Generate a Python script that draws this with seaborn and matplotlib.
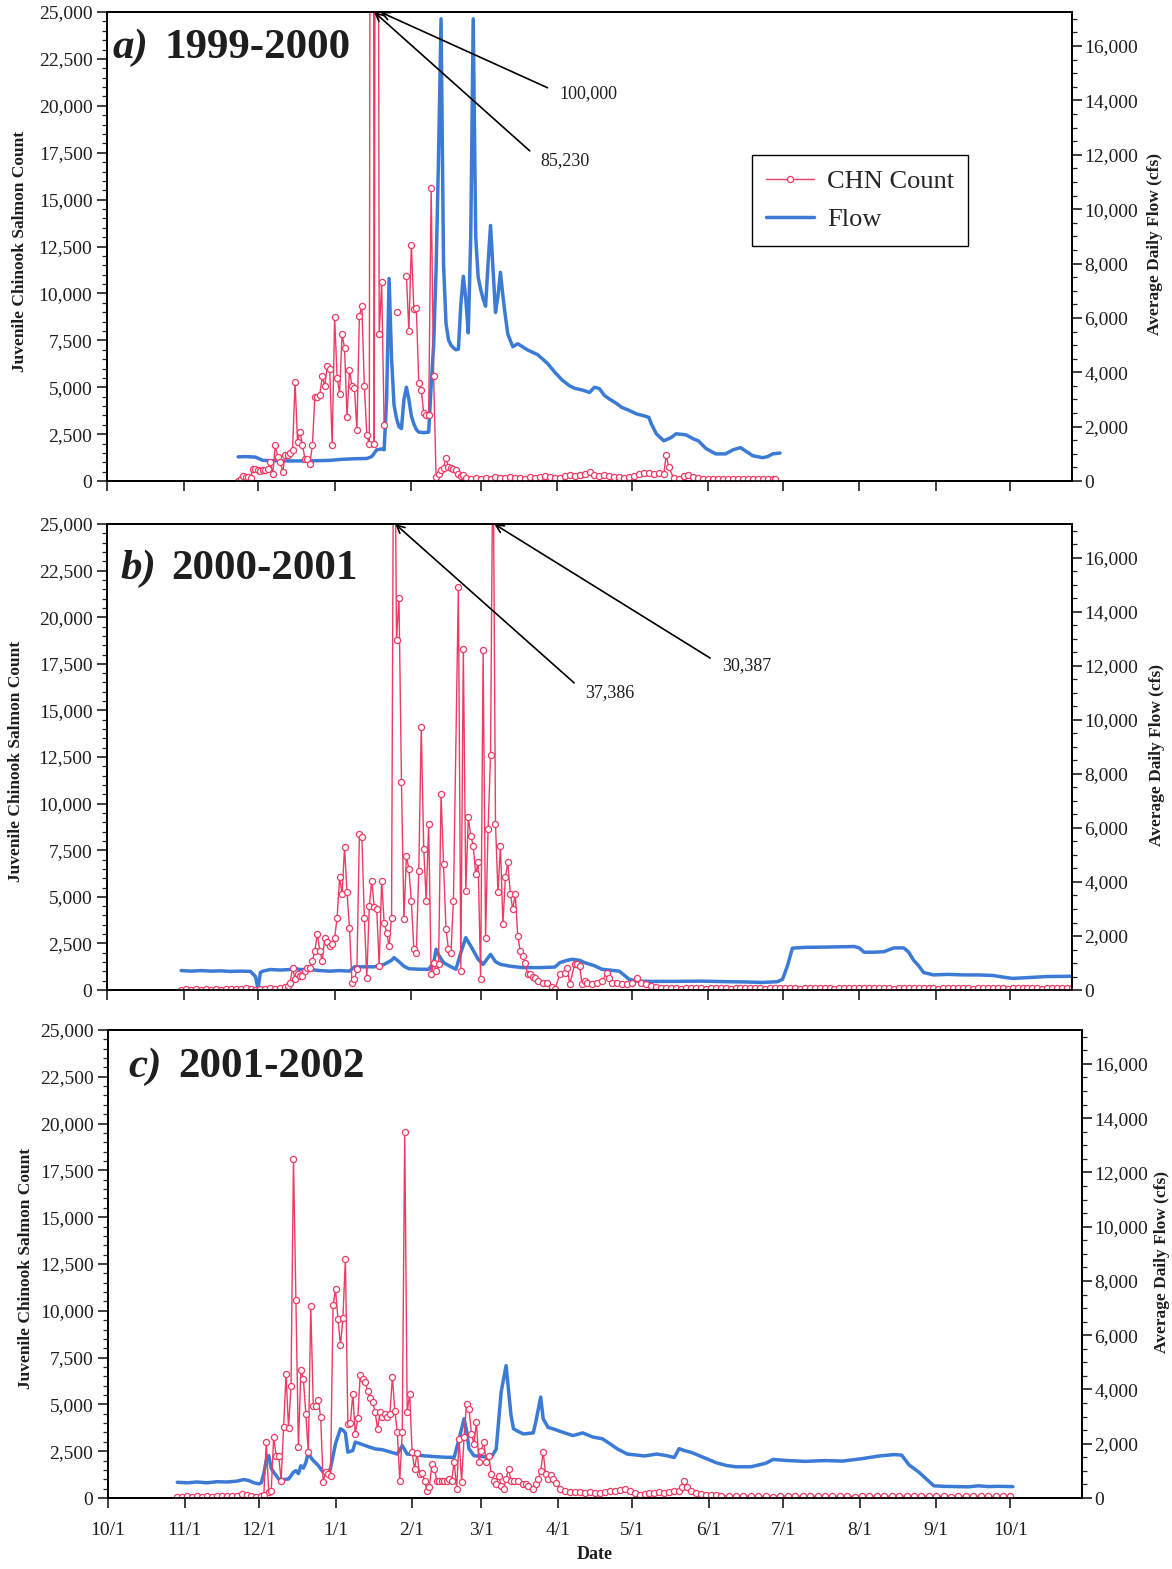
import matplotlib
matplotlib.use("Agg")
import matplotlib.pyplot as plt
import matplotlib.ticker as mticker
import numpy as np
import pandas as pd
import seaborn as sns

# x positions are days counted from 10/1
MONTH_DAYS = [0, 31, 61, 92, 123, 151, 182, 212, 243, 273, 304, 335, 365]
MONTH_LABELS = ["10/1", "11/1", "12/1", "1/1", "2/1", "3/1", "4/1",
                "5/1", "6/1", "7/1", "8/1", "9/1", "10/1"]

# ---- a) 1999-2000
A_COUNT_DAY = (list(range(53, 113)) + [117] + list(range(121, 146))
               + list(range(147, 226, 2)) + [226, 227]
               + list(range(229, 270, 2)) + [270])
A_COUNT = [0, 100, 250, 200, 200, 180, 660, 620, 600, 540,
           570, 600, 660, 1020, 390, 1900, 1300, 1020, 480, 1380,
           1400, 1470, 1680, 5300, 2100, 2630, 1900, 1200, 1200, 930,
           1900, 4500, 4500, 4600, 5580, 5050, 6120, 5980, 1900, 8720,
           5490, 4650, 7820, 7100, 3440, 5940, 5050, 4960, 2720, 8800,
           9340, 5050, 2450, 2000, 100000, 2000, 85230, 7820, 10600, 2990,
           9000,
           10950, 8000, 12600, 9160, 9250, 5230, 4870, 3620, 3530, 3530,
           15600, 5580, 200, 390, 570, 700, 1250, 750, 700, 650,
           600, 350, 250, 300, 150,
           120, 180, 120, 150, 130, 200, 170, 180, 220, 150,
           180, 130, 200, 160, 220, 260, 200, 180, 150, 260,
           300, 250, 300, 350, 480, 300, 260, 300, 280, 200,
           240, 150, 200, 260, 350, 420, 450, 400, 420, 380,
           1400, 750,
           150, 100, 250, 300, 200, 150, 120, 100, 120, 100,
           90, 100, 100, 90, 100, 100, 90, 100, 100, 90,
           100, 100]
A_FLOW_DAY = [53, 56, 60, 62, 63, 70, 80, 90, 95, 100, 105, 107, 109, 111, 112,
              113, 114, 115, 116, 117, 118, 119, 120, 121, 122, 123, 124, 125, 126,
              128, 130, 131, 132, 133, 134, 135, 136, 137, 138, 139, 140, 141, 142,
              143, 144, 145, 146, 147, 148, 149, 150, 151, 152, 153, 154, 155, 156,
              157, 158, 159, 160, 161, 162, 164, 166, 170, 174, 178, 181, 184, 187,
              189, 192, 195, 197, 199, 201, 203, 206, 208, 211, 214, 217, 219, 220,
              222, 225, 228, 230, 234, 237, 239, 242, 246, 250, 253, 256, 259, 261,
              265, 267, 269, 272]
A_FLOW = [890, 900, 880, 800, 760, 740, 740, 760, 800, 820, 830, 900, 1150, 1180, 1150,
          3000, 7450, 4500, 2800, 2300, 2000, 1930, 3000, 3450, 3000, 2400, 2100, 1900, 1800,
          1780, 1800, 3500, 5000, 7800, 12000, 17000, 8000, 5800, 5200, 5000, 4900, 4830, 4850,
          6500, 7530, 6700, 5450, 9000, 17000, 9000, 7500, 7050, 6700, 6430, 8000, 9400, 7800,
          6200, 6800, 7680, 6800, 6060, 5400, 4940, 5050, 4820, 4650, 4330, 4000, 3710, 3500,
          3410, 3350, 3260, 3450, 3400, 3150, 3020, 2850, 2710, 2600, 2470, 2400, 2340, 2100,
          1740, 1480, 1600, 1740, 1700, 1550, 1480, 1200, 1000, 1000, 1150, 1230, 1050, 930,
          860, 900, 1000, 1030]

# ---- b) 2000-2001
B_COUNT_DAY = (list(range(30, 73, 2)) + list(range(73, 141)) + list(range(142, 175))
               + [176, 178, 180, 181, 183, 185, 186, 187, 189, 190, 191, 192, 193,
                  194, 196, 198, 200, 202, 203, 204, 206, 208, 210, 212, 214, 216,
                  218, 220, 222, 224] + list(range(226, 391, 2)))
B_COUNT = [20, 30, 20, 30, 20, 30, 20, 30, 20, 30, 40, 30, 40, 125, 40, 0, 40, 60,
           110, 60, 110, 150,
           215, 395, 1200, 570, 840, 750, 750, 1000, 1200, 1200,
           1560, 2100, 3000, 2100, 1560, 2800, 2600, 2370, 2450, 2800,
           3890, 6040, 5150, 7650, 5240, 3350, 400, 570, 1110, 8370,
           8190, 3890, 660, 4520, 5860, 4430, 4340, 1290, 5860, 3620,
           3080, 2370, 3890, 37386, 18770, 21050, 11150, 3800, 7200, 6490,
           4790, 2190, 2000, 6400, 14110, 7570, 4790, 8910, 840, 1470,
           1000, 1400, 10530, 6760, 3260, 2190, 2000, 4790,
           21640, 1020, 18320, 5330, 9270, 8280, 7750, 6220, 6850, 570,
           18230, 2810, 8640, 12590, 30387, 8910, 5240, 7750, 3530, 6040,
           6850, 5150, 4340, 5150, 2900, 2100, 1800, 1470, 840, 840,
           700, 660, 480,
           360, 360, 150, 40, 840, 930, 1200, 300, 1380, 1380, 1290, 300, 480,
           400, 300, 400, 480, 930, 660, 400, 360, 300, 300, 360, 660, 400,
           300, 215, 150, 120,
           100, 90, 110, 80, 100, 90, 120, 100, 80, 90,
           100, 110, 90, 80, 100, 90, 100, 110, 100, 90,
           80, 100, 90, 100, 120, 100, 90, 80, 100, 90,
           100, 110, 90, 100, 80, 90, 100, 110, 100, 90,
           100, 120, 110, 100, 90, 100, 80, 90, 100, 110,
           100, 90, 100, 110, 90, 80, 100, 90, 100, 120,
           100, 90, 80, 100, 90, 100, 110, 100, 90, 80,
           100, 90, 100, 110, 100, 90, 80, 100, 90, 100,
           110, 100, 90]
B_FLOW_DAY = [30, 34, 38, 42, 46, 50, 54, 58, 60, 61, 62, 63, 66, 70, 74, 76, 78, 82,
              86, 90, 94, 98, 100, 104, 108, 112, 115, 116, 118, 120, 122, 126, 130,
              132, 133, 134, 136, 139, 141, 143, 145, 147, 150, 152, 155, 157, 159,
              163, 168, 175, 181, 183, 186, 188, 191, 193, 197, 200, 204, 207, 209,
              211, 214, 220, 230, 240, 250, 258, 265, 271, 273, 275, 277, 282, 290,
              296, 302, 304, 306, 310, 314, 318, 322, 324, 326, 328, 330, 334, 340,
              346, 352, 358, 362, 366, 372, 380, 390]
B_FLOW = [720, 700, 720, 700, 710, 690, 700, 690, 500, 50, 650, 700, 760, 740, 760, 800,
          760, 760, 720, 700, 720, 700, 860, 860, 860, 950, 1100, 1200, 1050, 880, 790,
          770, 770, 1000, 1510, 1300, 1015, 860, 770, 1390, 1940, 1630, 1140, 950, 1320,
          1050, 950, 880, 830, 830, 850, 1015, 1100, 1140, 1100, 1015, 900, 770, 730,
          700, 550, 400, 330, 320, 320, 330, 310, 300, 280, 310, 400, 900, 1550, 1580,
          1590, 1600, 1610, 1560, 1400, 1400, 1420, 1560, 1560, 1400, 1100, 900, 650,
          560, 580, 560, 560, 540, 480, 430, 460, 500, 510]

# ---- c) 2001-2002
C_COUNT_DAY = (list(range(28, 63, 2)) + list(range(63, 165))
               + [166, 168, 169, 170, 172, 173, 174, 175, 176, 177, 178, 179, 180, 181]
               + list(range(183, 232, 2)) + [232, 233, 234]
               + list(range(236, 249, 2)) + list(range(251, 366, 3)))
C_COUNT = [80, 80, 90, 80, 90, 80, 90, 80, 90, 100, 90, 100, 120, 200, 150, 100, 80, 90,
           150,
           3010, 300, 390, 3250, 2260, 2260, 930, 3780, 6600, 3730,
           5960, 18130, 10560, 2710, 6860, 6360, 4490, 2440, 10250, 4940,
           4940, 5210, 4310, 870, 1370, 1280, 1200, 10290, 11140, 9570,
           8150, 9610, 12780, 3960, 4010, 5560, 3420, 4260, 6580, 6370,
           6220, 5740, 5330, 5120, 4620, 3690, 4580, 4310, 4490, 4310,
           4490, 6450, 4670, 3510, 930, 3510, 19560, 4580, 5560, 2440,
           1550, 2400, 1280, 1350, 930, 390, 600, 1820, 1550, 930,
           930, 930, 930, 930, 1000, 930, 1940, 480, 3160, 840,
           3250, 5030, 4760, 3420, 2890, 4050, 1910, 2530, 3010, 1910,
           2260, 1280, 930, 750, 1190, 660, 480, 1020, 1550, 930,
           930,
           930, 750, 750, 660, 480, 750, 1020, 1460, 2440, 1280, 1000, 1230, 1000, 800,
           480, 390, 340, 320, 300, 280, 300, 280, 270, 300, 350, 390, 450,
           480, 350, 250, 160, 200, 250, 280, 300, 280, 300, 350, 390,
           570, 930, 600,
           350, 250, 200, 180, 160, 150, 130,
           100, 90, 110, 100, 90, 100, 80, 100, 110, 90,
           100, 90, 100, 110, 100, 90, 100, 80, 90, 100,
           110, 100, 90, 100, 100, 90, 110, 100, 90, 100,
           80, 100, 90, 110, 100, 90, 100, 100, 90]
C_FLOW_DAY = [28, 32, 36, 40, 44, 48, 52, 55, 57, 59, 61, 62, 63, 64, 65, 66, 67, 69,
              71, 73, 74, 75, 76, 77, 78, 79, 80, 81, 82, 83, 85, 87, 89, 90, 92, 94,
              95, 96, 97, 99, 100, 102, 105, 108, 111, 114, 117, 119, 121, 124, 127,
              130, 133, 137, 140, 142, 144, 145, 146, 148, 152, 155, 157, 159, 161,
              163, 164, 166, 168, 172, 173, 175, 176, 178, 180, 184, 188, 192, 196,
              200, 203, 206, 210, 214, 217, 222, 226, 229, 231, 233, 236, 241, 246,
              250, 254, 260, 266, 269, 275, 282, 290, 297, 305, 312, 318, 321, 324,
              328, 331, 334, 338, 343, 348, 352, 356, 360, 366]
C_FLOW = [580, 560, 590, 560, 600, 590, 620, 680, 640, 560, 520, 560, 900, 1400, 1560,
          1100, 950, 700, 680, 700, 820, 950, 1010, 900, 1190, 1100, 1300, 1690, 1500,
          1380, 1200, 950, 890, 1100, 2000, 2550, 2500, 2400, 1690, 1750, 2060, 2000,
          1900, 1810, 1780, 1700, 1620, 1930, 1620, 1600, 1560, 1540, 1520, 1500, 1500,
          2180, 2920, 2500, 1810, 1560, 1520, 1500, 1800, 3900, 4880, 3040, 2550, 2450,
          2360, 2400, 2800, 3720, 2920, 2600, 2550, 2420, 2300, 2400, 2250, 2180, 2000,
          1810, 1620, 1580, 1550, 1620, 1560, 1490, 1820, 1750, 1680, 1490, 1300, 1200,
          1150, 1150, 1280, 1420, 1380, 1350, 1380, 1360, 1450, 1550, 1600, 1580, 1220,
          950, 700, 450, 430, 420, 410, 450, 420, 430, 420]

RED = "#ec3b64"
BLUE = "#3b7bd6"
INK = "#1e1e1e"


def count_frame(days, values):
    d = np.asarray(days, dtype=float)
    seg = np.cumsum(np.diff(d, prepend=d[0]) > 3)
    return pd.DataFrame({"day": d, "count": values, "seg": seg})


def fmt(v, pos):
    return f"{int(round(v)):,}"


def main():
    sns.set_style("ticks")
    plt.rcParams["font.family"] = ["Liberation Serif", "DejaVu Serif"]
    plt.rcParams["axes.linewidth"] = 1.3

    fig = plt.figure(figsize=(11.72, 15.69), dpi=100)

    panels = [
        dict(rect=[0.0913, 0.6934, 0.8234, 0.2989], xmax=390, tag="a)", year="1999-2000",
             cd=A_COUNT_DAY, c=A_COUNT, fd=A_FLOW_DAY, f=A_FLOW,
             tx=(0.006, 0.060, 0.902), lx=-0.082, rx=1.078),
        dict(rect=[0.0913, 0.3690, 0.8234, 0.2970], xmax=390, tag="b)", year="2000-2001",
             cd=B_COUNT_DAY, c=B_COUNT, fd=B_FLOW_DAY, f=B_FLOW,
             tx=(0.0135, 0.067, 0.882), lx=-0.086, rx=1.080),
        dict(rect=[0.0922, 0.04525, 0.8311, 0.2983], xmax=394, tag="c)", year="2001-2002",
             cd=C_COUNT_DAY, c=C_COUNT, fd=C_FLOW_DAY, f=C_FLOW,
             tx=(0.0205, 0.072, 0.900), lx=-0.076, rx=1.074),
    ]

    axes = []
    for i, p in enumerate(panels):
        ax = fig.add_axes(p["rect"])
        ax2 = ax.twinx()

        sns.lineplot(x=p["fd"], y=p["f"], ax=ax2, color=BLUE, linewidth=2.5,
                     estimator=None, sort=False)
        df = count_frame(p["cd"], p["c"])
        sns.lineplot(data=df, x="day", y="count", units="seg", estimator=None,
                     sort=False, ax=ax, color=RED, linewidth=1.0, marker="o",
                     markersize=4.4, markerfacecolor="white", markeredgecolor=RED,
                     markeredgewidth=0.9, legend=False)

        ax.set_zorder(ax2.get_zorder() + 1)
        ax.patch.set_visible(False)

        ax.set_xlim(0, p["xmax"])
        ax.set_ylim(0, 25000)
        ax2.set_ylim(0, 17250)

        ax.set_xticks(MONTH_DAYS)
        if i == 2:
            ax.set_xticklabels(MONTH_LABELS)
            ax.set_xlabel("Date", fontsize=13, fontweight="bold", labelpad=5, color=INK)
        else:
            ax.set_xticklabels([])
            ax.set_xlabel("")
        ax.tick_params(axis="x", which="major", length=7, width=1.2, direction="out",
                       labelsize=14, pad=10, colors=INK)

        ax.yaxis.set_major_locator(mticker.MultipleLocator(2500))
        ax.yaxis.set_minor_locator(mticker.MultipleLocator(500))
        ax.yaxis.set_major_formatter(mticker.FuncFormatter(fmt))
        ax.tick_params(axis="y", which="major", length=7, width=1.2, labelsize=14,
                       direction="out", colors=INK)
        ax.tick_params(axis="y", which="minor", length=3.5, width=0.9, direction="out")

        ax2.set_yticks([0, 2000, 4000, 6000, 8000, 10000, 12000, 14000, 16000])
        ax2.yaxis.set_minor_locator(mticker.MultipleLocator(500))
        ax2.yaxis.set_major_formatter(mticker.FuncFormatter(fmt))
        ax2.tick_params(axis="y", which="major", length=7, width=1.2, labelsize=14,
                        direction="out", colors=INK, pad=2)
        ax2.tick_params(axis="y", which="minor", length=3.5, width=0.9, direction="out")

        ax.set_ylabel("Juvenile Chinook Salmon Count", fontsize=12.5, fontweight="bold",
                      color=INK)
        ax.yaxis.set_label_coords(p["lx"], 0.49)
        ax2.set_ylabel("Average Daily Flow (cfs)", fontsize=12.5, fontweight="bold",
                       color=INK)
        ax2.yaxis.set_label_coords(p["rx"], 0.505)

        for sp in list(ax.spines.values()) + list(ax2.spines.values()):
            sp.set_color("black")
            sp.set_linewidth(1.3)

        tx_tag, tx_year, ty = p["tx"]
        ax.text(tx_tag, ty, p["tag"], transform=ax.transAxes, fontsize=31,
                fontweight="bold", fontstyle="italic", va="baseline", ha="left", color=INK)
        ax.text(tx_year, ty, p["year"], transform=ax.transAxes, fontsize=31,
                fontweight="bold", va="baseline", ha="left", color=INK)
        axes.append((ax, ax2))

    arrow = dict(arrowstyle="->", color="black", lw=1.2, shrinkA=7, shrinkB=0,
                 relpos=(0, 0.5), mutation_scale=14)

    ax_a, ax_a2 = axes[0]
    ax_a.annotate("100,000", xy=(110.5, 25000), xycoords="data",
                  xytext=(0.469, 0.827), textcoords="axes fraction", fontsize=13,
                  ha="left", va="center", color=INK, arrowprops=arrow,
                  annotation_clip=False)
    ax_a.annotate("85,230", xy=(108, 25000), xycoords="data",
                  xytext=(0.449, 0.684), textcoords="axes fraction", fontsize=13,
                  ha="left", va="center", color=INK, arrowprops=arrow,
                  annotation_clip=False)

    ax_b, ax_b2 = axes[1]
    ax_b.annotate("37,386", xy=(116.5, 25000), xycoords="data",
                  xytext=(0.495, 0.639), textcoords="axes fraction", fontsize=13,
                  ha="left", va="center", color=INK, arrowprops=arrow,
                  annotation_clip=False)
    ax_b.annotate("30,387", xy=(156.5, 25000), xycoords="data",
                  xytext=(0.637, 0.697), textcoords="axes fraction", fontsize=13,
                  ha="left", va="center", color=INK, arrowprops=arrow,
                  annotation_clip=False)

    h_count = ax_a.get_lines()[0]
    h_flow = ax_a2.get_lines()[0]
    leg = ax_a.legend([h_count, h_flow], ["CHN Count", "Flow"], loc="upper left",
                      bbox_to_anchor=(0.668, 0.695), fontsize=19, frameon=True,
                      fancybox=False, framealpha=1, edgecolor="black",
                      handlelength=1.8, labelspacing=0.55, borderpad=0.55,
                      handletextpad=0.5, borderaxespad=0)
    leg.get_frame().set_linewidth(1.0)

    fig.savefig("out.png", dpi=100)


if __name__ == "__main__":
    main()
